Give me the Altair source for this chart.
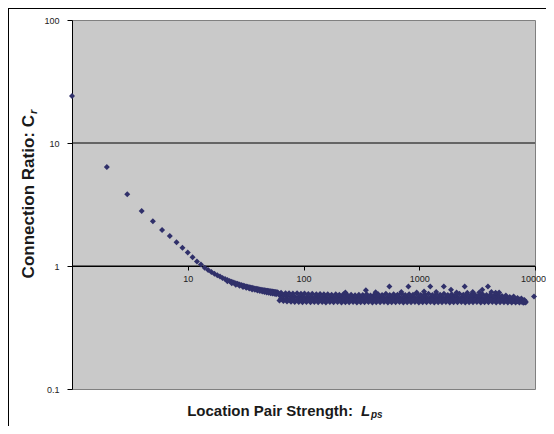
import altair as alt
import pandas as pd

# ---------------- data ----------------
curve_x = [1, 2, 3, 4, 5, 6, 7, 8, 9, 10,
           11, 12, 13, 14, 15, 16, 17, 18, 19, 20,
           21, 22, 23, 24, 25, 26, 27, 28, 29, 30,
           31, 32, 33, 34, 35, 36, 37, 38, 39, 40,
           41, 42, 43, 44, 45, 46, 47, 48, 49, 50,
           51, 52, 53, 54, 55, 56, 57, 58, 59, 60]
curve_y = [24.1, 6.38, 3.83, 2.80, 2.31, 1.96, 1.75, 1.56, 1.41, 1.29,
           1.18, 1.09, 1.03, 0.97, 0.93, 0.895, 0.865, 0.84, 0.82, 0.80,
           0.785, 0.77, 0.755, 0.745, 0.735, 0.725, 0.716, 0.708, 0.70, 0.694,
           0.688, 0.682, 0.677, 0.672, 0.668, 0.664, 0.66, 0.656, 0.653, 0.65,
           0.647, 0.644, 0.641, 0.639, 0.636, 0.634, 0.632, 0.63, 0.628, 0.626,
           0.624, 0.622, 0.621, 0.619, 0.617, 0.616, 0.614, 0.613, 0.611, 0.61]

spread_x = [22, 24, 26, 28, 30, 32, 34, 36, 38, 40, 42, 44, 46, 48, 50, 52, 54, 56, 58]
spread_y = [0.75, 0.725, 0.705, 0.69, 0.675, 0.665, 0.655, 0.645, 0.64, 0.632,
            0.626, 0.62, 0.615, 0.61, 0.605, 0.60, 0.597, 0.594, 0.59]

band_xa = [62, 67, 72, 78, 84, 91, 98, 106, 115, 124,
           134, 145, 156, 169, 182, 197, 213, 230, 248, 268,
           289, 312, 337, 364, 394, 425, 459, 496, 536, 578,
           625, 675, 729, 787, 850, 918, 991, 1071, 1156, 1249,
           1349, 1457, 1573, 1699, 1835, 1982, 2140, 2312, 2497, 2696,
           2912, 3145, 3397, 3668, 3962, 4279, 4621, 4991, 5390, 5821,
           6287, 6790, 7333, 7920, 8300]
band_r1 = [0.525, 0.52, 0.515, 0.512, 0.51, 0.51, 0.508, 0.51, 0.507, 0.51,
           0.508, 0.51, 0.506, 0.509, 0.507, 0.51, 0.506, 0.508, 0.507, 0.51,
           0.506, 0.508, 0.507, 0.51, 0.506, 0.508, 0.507, 0.509, 0.506, 0.508,
           0.507, 0.51, 0.506, 0.508, 0.507, 0.509, 0.506, 0.508, 0.507, 0.51,
           0.506, 0.508, 0.507, 0.509, 0.506, 0.508, 0.507, 0.51, 0.506, 0.508,
           0.507, 0.509, 0.506, 0.508, 0.507, 0.509, 0.506, 0.508, 0.507, 0.506,
           0.505, 0.506, 0.504, 0.503, 0.505]
band_r3 = [0.578, 0.572, 0.568, 0.565, 0.562, 0.56, 0.562, 0.558, 0.56, 0.557,
           0.56, 0.556, 0.558, 0.555, 0.558, 0.556, 0.558, 0.555, 0.557, 0.555,
           0.558, 0.555, 0.557, 0.554, 0.557, 0.555, 0.558, 0.554, 0.557, 0.555,
           0.558, 0.554, 0.557, 0.555, 0.558, 0.554, 0.557, 0.555, 0.558, 0.554,
           0.557, 0.555, 0.558, 0.554, 0.557, 0.555, 0.558, 0.554, 0.557, 0.555,
           0.556, 0.553, 0.556, 0.553, 0.555, 0.552, 0.554, 0.55, 0.552, 0.548,
           0.545, 0.54, 0.535, 0.525, 0.515]

band_xb = [64, 70, 75, 81, 88, 95, 102, 110, 119, 129,
           139, 150, 162, 175, 190, 204, 221, 239, 258, 279,
           301, 325, 351, 379, 409, 442, 477, 515, 556, 601,
           649, 701, 757, 818, 883, 954, 1030, 1113, 1202, 1298,
           1402, 1514, 1635, 1766, 1907, 2060, 2225, 2403, 2595, 2802,
           3027, 3269, 3530, 3813, 4118, 4447, 4803, 5188, 5603, 6051,
           6535, 7058, 7622, 8100]
band_r2 = [0.545, 0.54, 0.535, 0.533, 0.532, 0.534, 0.531, 0.533, 0.53, 0.532,
           0.531, 0.533, 0.53, 0.532, 0.531, 0.533, 0.53, 0.532, 0.531, 0.533,
           0.53, 0.532, 0.531, 0.533, 0.53, 0.532, 0.531, 0.533, 0.53, 0.532,
           0.531, 0.533, 0.53, 0.532, 0.531, 0.533, 0.53, 0.532, 0.531, 0.533,
           0.53, 0.532, 0.531, 0.533, 0.53, 0.532, 0.531, 0.533, 0.53, 0.532,
           0.531, 0.532, 0.53, 0.531, 0.529, 0.53, 0.528, 0.527, 0.525, 0.523,
           0.52, 0.516, 0.512, 0.508]
band_r4 = [0.605, 0.60, 0.60, 0.598, 0.60, 0.595, 0.597, 0.593, 0.595, 0.59,
           0.593, 0.588, 0.59, 0.585, 0.59, 0.583, 0.59, 0.58, 0.585, 0.578,
           0.585, 0.58, 0.59, 0.575, 0.585, 0.59, 0.58, 0.595, 0.58, 0.59,
           0.585, 0.595, 0.58, 0.59, 0.585, 0.595, 0.58, 0.59, 0.595, 0.58,
           0.59, 0.585, 0.595, 0.58, 0.59, 0.58, 0.595, 0.585, 0.59, 0.58,
           0.585, 0.575, 0.59, 0.58, 0.585, 0.575, 0.58, 0.57, 0.575, 0.56,
           0.565, 0.55, 0.545, 0.53]

out_x = [230, 346, 420, 552, 700, 806, 950, 1100, 1244, 1400, 1630, 1880,
         2100, 2470, 2600, 2900, 3300, 3500, 3920, 4200, 4570, 4900, 9800]
out_y = [0.61, 0.635, 0.612, 0.68, 0.615, 0.68, 0.61, 0.62, 0.68, 0.615, 0.68, 0.64,
         0.61, 0.68, 0.605, 0.615, 0.61, 0.64, 0.68, 0.615, 0.605, 0.61, 0.565]

x_ticks = [10, 100, 1000, 10000]
y_ticks = [0.1, 1, 10, 100]
grid_vals = [1, 10]

# ---------------- build table ----------------
pairs = (list(zip(curve_x, curve_y)) + list(zip(spread_x, spread_y)) +
         list(zip(band_xa, band_r1)) + list(zip(band_xa, band_r3)) +
         list(zip(band_xb, band_r2)) + list(zip(band_xb, band_r4)) +
         list(zip(out_x, out_y)))
df = pd.DataFrame(pairs, columns=["Lps", "Cr"])

NAVY = "#30306a"
FONT = "Liberation Sans"
W, H = 463, 369

xs = alt.Scale(type="log", domain=[1, 10000], nice=False)
ys = alt.Scale(type="log", domain=[0.1, 100], nice=False)

x_axis = alt.Axis(values=x_ticks, format="~g", orient="bottom", offset=-123,
                  tickSize=4, labelPadding=4, grid=False, title=None,
                  domainColor="black", tickColor="black", labelColor="#222",
                  labelFont=FONT, labelFontSize=9, labelFlush=False,
                  labelOffset={"condition": {"test": "datum.value >= 10000", "value": -2},
                               "value": 0})
y_axis = alt.Axis(values=y_ticks, format="~g", orient="left", tickSize=5,
                  labelPadding=8, grid=False, title=None,
                  domainColor="black", tickColor="black", labelColor="#222",
                  labelFont=FONT, labelFontSize=9)

x_enc = alt.X("Lps:Q", scale=xs, axis=x_axis)
y_enc = alt.Y("Cr:Q", scale=ys, axis=y_axis)

grid = alt.Chart(pd.DataFrame({"Cr": grid_vals})).mark_rule(
    color="black", strokeWidth=1).encode(y=y_enc)

points = alt.Chart(df).mark_point(
    shape="diamond", filled=True, size=36, color=NAVY, opacity=1
).encode(x=x_enc, y=y_enc)

one = pd.DataFrame({"k": [0]})

def txt(s, x, y, size=15, style="normal", align="left", angle=0):
    return alt.Chart(one).mark_text(
        text=s, align=align, baseline="alphabetic", font=FONT, fontSize=size,
        fontWeight="bold", fontStyle=style, color="#1a1a1a", angle=angle
    ).encode(x=alt.value(x), y=alt.value(y))

x_title = (txt("Location Pair Strength:", 281, 396, align="right") +
           txt("L", 289, 396, style="italic") +
           txt("ps", 299, 398, size=10, style="italic"))
y_title = (txt("Connection Ratio: C", -38, 95, size=17, align="right", angle=270) +
           txt("r", -35, 94, size=11, style="italic", angle=270))

border_left = alt.Chart(one).mark_rule(color="black", strokeWidth=1).encode(
    x=alt.value(-63.5), y=alt.value(-12), y2=alt.value(406))
border_top = alt.Chart(one).mark_rule(color="black", strokeWidth=1).encode(
    x=alt.value(-64), x2=alt.value(474), y=alt.value(-11.5))

chart = alt.layer(
    grid, points, x_title, y_title, border_left, border_top
).properties(
    width=W, height=H,
    padding={"left": 64, "top": 12, "right": 11, "bottom": 37},
    autosize=alt.AutoSizeParams(type="none"),
    background="white",
).configure_view(
    fill="#c9c9c9", stroke="#808080", strokeWidth=1
)

chart.save("out.html", embed_options={"renderer": "svg", "actions": False})
